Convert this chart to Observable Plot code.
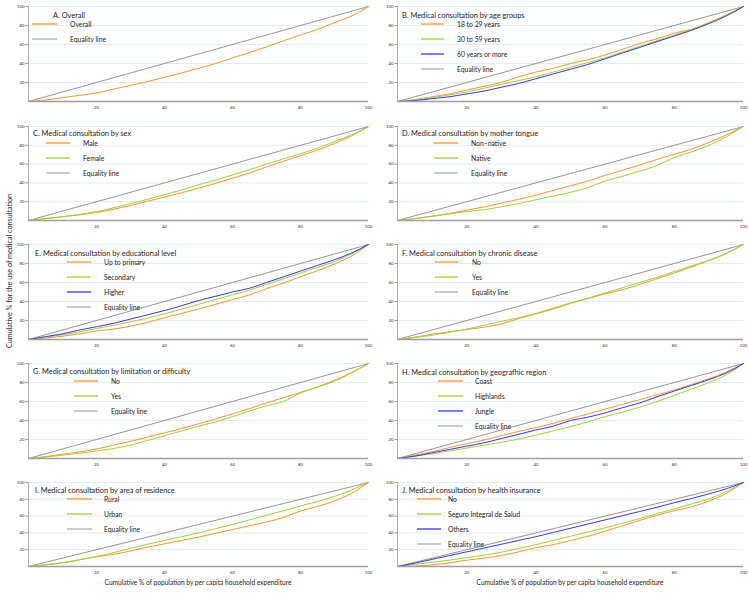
<!DOCTYPE html>
<html><head><meta charset="utf-8">
<script src="https://cdn.jsdelivr.net/npm/d3@7"></script>
<script src="https://cdn.jsdelivr.net/npm/@observablehq/plot@0.6"></script>
<style>
html,body{margin:0;padding:0;background:#fff;}
#wrap{position:relative;width:749px;height:594px;overflow:hidden;font-family:Lato,"Open Sans",sans-serif;}
#wrap svg.plot{position:absolute;}
#overlay{position:absolute;left:0;top:0;}
</style>
</head><body>
<div id="wrap"></div>
<script>
// ---- data ----
const pct = [0,5,10,15,20,25,30,35,40,45,50,55,60,65,70,75,80,85,90,95,100];
const equality = [0,100];
const ticks = [20,40,60,80,100];

const aOverall = [0,1.5,4,6.5,9,13,17,21,25.5,30,35,40,46,51.5,57.5,64,70,76,83,90,100];

const bAge18_29 = [0,2,5,8,12,16,20,26,31,35,40,44,49,55,61,66,72,76,83,91,100];
const bAge30_59 = [0,1.5,4,7,10,14,18,22,26,31,36,41,46,52,58,64,70,76,83,91,100];
const bAge60 = [0,1,3,5,8,11,15,19,24,29,34,39,45,51,57,63,69,75,82,90,100];

const cMale = [0,2,4,6,8.5,12,16,20.5,25,29.5,34.5,39.5,45,50.5,57,63,69,75,82,90,100];
const cFemale = [0,2,4,6.5,9.5,13.5,18,22.5,27.5,32.5,38,43,48.5,54,60,65.5,71,77,84,91,100];

const dNonNative = [0,2,4.5,7.5,11,14.5,18.5,22.5,27,32,37,42,48,53.5,59,65,70.5,76,83,91,100];
const dNative = [0,2,4.5,7,9.5,11.5,14.5,18,22,26,30,35,42,47,52.5,58.5,67,73,80,89,100];

const eUpToPrimary = [0,1.5,3.5,6,9,11,14,18,23,27.5,32,37,42,47,53.5,59.5,66,72.5,79.5,88,100];
const eSecondary = [0,2.5,5,8,11.5,15,18.5,22.5,27,32,37,42,47,52,58,64,70,76,82,90,100];
const eHigher = [0,3,6,10,13.5,17,21.5,26,30.5,35.5,41,45.5,50,54,60,66,72,78,84,91,100];

const fNo = [0,2.5,5.5,8,10.5,13,16.5,22,27,32,38,43,48,52.5,58,64,70,76.5,83,90.5,100];
const fYes = [0,2,4.5,7.5,11,15,19,23,27.5,33,38.5,43.5,49,54.5,60,65.5,71.5,77.5,83.5,90.5,100];

const gNo = [0,2,4.5,7,10,14,18,22.5,27,31.5,36.5,41.5,47,52.5,58.5,64,69.5,75.5,82.5,90.5,100];
const gYes = [0,1.5,3.5,5.5,8,10.5,14,19,24,29,34,38.5,44,50,55.5,60,69,75,81.5,90,100];

const hCoast = [0,3.5,7,11.5,15.5,19.5,24,28.5,32.5,37,42,47,52,57,62,67,72,78,84,91,100];
const hHighlands = [0,2.5,5,8,11,14,17,20.5,24.5,29,33.5,38.5,44,49,54,60,66.5,73,80,88,100];
const hJungle = [0,2.5,6,9.5,13,16.5,21,25.5,30,34,40,43.5,48,53.5,58.5,65,71,77,83,90,100];

const iRural = [0,2,4.5,8,11.5,14.5,18.5,23,27,31,35,39.5,44,48.5,53,58.5,66,71.5,78,87,100];
const iUrban = [0,2,4.5,8,12,16.5,21.5,26.5,31,35.5,40,45,50,55.5,61,66.5,72,77.5,83.5,91,100];

const jNo = [0,0.5,2,4.5,7.5,10,13,17.5,22.5,26,31,36,42,48.5,55,61,66.5,71,78,87,100];
const jSIS = [0,2.5,5,7.5,10.5,13.5,17,21.5,26,31,36,41,46,51.5,57,63,68.5,74.5,80.5,89,100];
const jOthers = [0,4,8.5,13,17.5,22,26.5,31,35.5,40.5,45.5,50.5,55.5,60.5,65.5,70.5,76,81,86.5,92.5,100];

const ORANGE = "#ff9433", GREEN = "#9fd03a", BLUE = "#3535ff", GREY = "#8a8a8a";

const panels = [
 {title:"A. Overall", col:0, row:0, series:[["Overall",ORANGE,aOverall]],
  lg:{tx:53,ty:15,x1:32,x2:57,y0:24,lab:70}},
 {title:"B. Medical consultation by age groups", col:1, row:0,
  series:[["18 to 29 years",ORANGE,bAge18_29],["30 to 59 years",GREEN,bAge30_59],["60 years or more",BLUE,bAge60]],
  lg:{tx:402,ty:15,x1:421,x2:444,y0:24,lab:457}},
 {title:"C. Medical consultation by sex", col:0, row:1,
  series:[["Male",ORANGE,cMale],["Female",GREEN,cFemale]],
  lg:{tx:33,ty:133,x1:46,x2:70,y0:143,lab:83}},
 {title:"D. Medical consultation by mother tongue", col:1, row:1,
  series:[["Non\u2013native",ORANGE,dNonNative],["Native",GREEN,dNative]],
  lg:{tx:402,ty:133,x1:434,x2:458,y0:143,lab:471}},
 {title:"E. Medical consultation by educational level", col:0, row:2,
  series:[["Up to primary",ORANGE,eUpToPrimary],["Secondary",GREEN,eSecondary],["Higher",BLUE,eHigher]],
  lg:{tx:35,ty:253,x1:67,x2:91,y0:262,lab:104}},
 {title:"F. Medical consultation by chronic disease", col:1, row:2,
  series:[["No",ORANGE,fNo],["Yes",GREEN,fYes]],
  lg:{tx:402,ty:253,x1:435,x2:458,y0:262,lab:472}},
 {title:"G. Medical consultation by limitation or difficulty", col:0, row:3,
  series:[["No",ORANGE,gNo],["Yes",GREEN,gYes]],
  lg:{tx:33,ty:371,x1:74,x2:98,y0:381,lab:111}},
 {title:"H. Medical consultation by geografhic region", col:1, row:3,
  series:[["Coast",ORANGE,hCoast],["Highlands",GREEN,hHighlands],["Jungle",BLUE,hJungle]],
  lg:{tx:402,ty:372,x1:438,x2:463,y0:381,lab:475}},
 {title:"I. Medical consultation by area of residence", col:0, row:4,
  series:[["Rural",ORANGE,iRural],["Urban",GREEN,iUrban]],
  lg:{tx:35,ty:490,x1:67,x2:92,y0:499,lab:104}},
 {title:"J. Medical consultation by health insurance", col:1, row:4,
  series:[["No",ORANGE,jNo],["Seguro Integral de Salud",GREEN,jSIS],["Others",BLUE,jOthers]],
  lg:{tx:402,ty:490,x1:417,x2:441,y0:499,lab:448}}
];

// layout: frame tops per row, frame heights per row
const frameTop = [6,126,244,363,482];
const frameH = [95,94,95,95,84];
const colLeft = [0,375], colW = [375,374], mLeft = [28,22], mRight = [7,6];

const wrap = document.getElementById("wrap");
for (const p of panels) {
  const rows = [];
  for (const [name,color,vals] of p.series) {
    pct.forEach((x,i)=>rows.push({series:name,color,x,y:vals[i]}));
  }
  const svg = Plot.plot({
    width: colW[p.col],
    height: 6 + frameH[p.row] + 14,
    marginLeft: mLeft[p.col], marginRight: mRight[p.col],
    marginTop: 6, marginBottom: 14,
    x: {domain:[0,100]},
    y: {domain:[0,100]},
    style: {fontFamily:"Lato, 'Open Sans', sans-serif", fontSize:"4.3px", color:"#333", background:"transparent", overflow:"visible"},
    marks: [
      Plot.gridY(ticks, {stroke:"#d9e6ec", strokeOpacity:1, strokeWidth:0.8}),
      Plot.axisY(ticks, {tickSize:2.5, tickPadding:1.5, label:null, stroke:"#999"}),
      Plot.axisX(ticks, {tickSize:0, tickPadding:4, label:null}),
      Plot.ruleX([0], {stroke:"#999", strokeWidth:0.8}),
      Plot.line(equality, {x:d=>d, y:d=>d, stroke:GREY, strokeWidth:0.9}),
      Plot.line(rows, {x:"x", y:"y", z:"series", stroke:"color", strokeWidth:1, curve:"monotone-x"}),
      Plot.ruleY([0], {stroke:"#a0a0a0", strokeWidth:1.6})
    ]
  });
  svg.classList.add("plot");
  svg.style.left = colLeft[p.col] + "px";
  svg.style.top = (frameTop[p.row] - 6) + "px";
  wrap.appendChild(svg);
}

// overlay: legends and axis titles
const ns = "http://www.w3.org/2000/svg";
const ov = document.createElementNS(ns,"svg");
ov.setAttribute("id","overlay");
ov.setAttribute("width",749); ov.setAttribute("height",594);
ov.setAttribute("font-family","Lato, 'Open Sans', sans-serif");
function txt(x,y,s,size,extra){
  const t=document.createElementNS(ns,"text");
  t.setAttribute("x",x); t.setAttribute("y",y);
  t.setAttribute("font-size",size); t.setAttribute("fill","#222");
  t.setAttribute("dominant-baseline","central");
  if(extra) for(const k in extra) t.setAttribute(k,extra[k]);
  t.textContent=s; ov.appendChild(t); return t;
}
function ln(x1,y1,x2,y2,c,w){
  const l=document.createElementNS(ns,"line");
  l.setAttribute("x1",x1);l.setAttribute("y1",y1);l.setAttribute("x2",x2);l.setAttribute("y2",y2);
  l.setAttribute("stroke",c);l.setAttribute("stroke-width",w);ov.appendChild(l);
}
for (const p of panels) {
  const g = p.lg;
  txt(g.tx, g.ty, p.title, 7.4);
  const items = p.series.map(s=>[s[0],s[1]]).concat([["Equality line",GREY]]);
  items.forEach(([name,color],i)=>{
    const y = g.y0 + i*15;
    ln(g.x1,y,g.x2,y,color,color===GREY?0.9:1.3);
    txt(g.lab,y,name,6.8);
  });
}
txt(198,582,"Cumulative % of population by per capita household expenditure",6.6,{"text-anchor":"middle"});
txt(570,582,"Cumulative % of population by per capita household expenditure",6.6,{"text-anchor":"middle"});
txt(0,0,"Cumulative % for the use of medical consultation",7.2,{"text-anchor":"middle","transform":"translate(9,271) rotate(-90)"});
wrap.appendChild(ov);
</script>
</body></html>
